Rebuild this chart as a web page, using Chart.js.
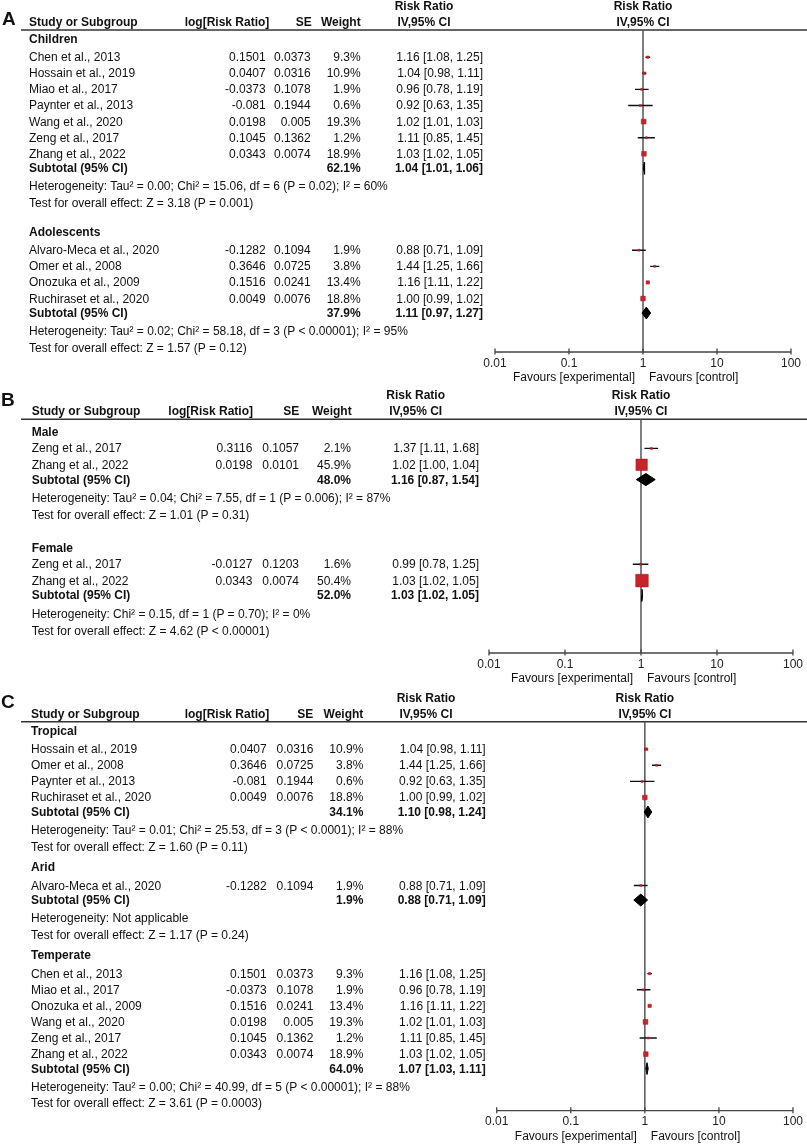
<!DOCTYPE html>
<html><head><meta charset="utf-8">
<script src="https://cdn.jsdelivr.net/npm/chart.js@4.4.0/dist/chart.umd.min.js"></script>
<style>
html,body{margin:0;padding:0;background:#fff;}
#page{position:relative;width:807px;height:1145px;overflow:hidden;font-family:'Liberation Sans',Arial,sans-serif;font-size:12px;color:#111;}
.t{position:absolute;white-space:nowrap;line-height:14px;height:14px;}
.b{font-weight:bold;}
canvas{position:absolute;left:0;}
.lab{position:absolute;white-space:nowrap;font-family:'Liberation Sans Narrow','Liberation Sans',sans-serif;font-weight:bold;font-size:19px;line-height:20px;color:#111;}
</style></head><body><div id="page"></div>
<script>
// ================= DATA =================
// Shared axis / header text
const tickValues = [0.01, 0.1, 1, 10, 100];
const tickLabels = ['0.01', '0.1', '1', '10', '100'];
const colHeaders = ['Study or Subgroup', 'log[Risk Ratio]', 'SE', 'Weight'];
const rrHeader = ['Risk Ratio', 'IV,95% CI'];
const favours = ['Favours [experimental]', 'Favours [control]'];
const subtotalLabel = 'Subtotal (95% CI)';

// Panel A (age)
const A_groups = ['Children', 'Adolescents'];
const A_studies = ['Chen et al., 2013', 'Hossain et al., 2019', 'Miao et al., 2017', 'Paynter et al., 2013', 'Wang et al., 2020', 'Zeng et al., 2017', 'Zhang et al., 2022', 'Alvaro-Meca et al., 2020', 'Omer et al., 2008', 'Onozuka et al., 2009', 'Ruchiraset et al., 2020'];
const A_groupOf = [0, 0, 0, 0, 0, 0, 0, 1, 1, 1, 1];
const A_logRR = [0.1501, 0.0407, -0.0373, -0.081, 0.0198, 0.1045, 0.0343, -0.1282, 0.3646, 0.1516, 0.0049];
const A_se = [0.0373, 0.0316, 0.1078, 0.1944, 0.005, 0.1362, 0.0074, 0.1094, 0.0725, 0.0241, 0.0076];
const A_weight = [9.3, 10.9, 1.9, 0.6, 19.3, 1.2, 18.9, 1.9, 3.8, 13.4, 18.8];
const A_rr = [1.16, 1.04, 0.96, 0.92, 1.02, 1.11, 1.03, 0.88, 1.44, 1.16, 1.00];
const A_lo = [1.08, 0.98, 0.78, 0.63, 1.01, 0.85, 1.02, 0.71, 1.25, 1.11, 0.99];
const A_hi = [1.25, 1.11, 1.19, 1.35, 1.03, 1.45, 1.05, 1.09, 1.66, 1.22, 1.02];
const A_subWeight = [62.1, 37.9];
const A_subRR = [1.04, 1.11];
const A_subLo = [1.01, 0.97];
const A_subHi = [1.06, 1.27];
const A_het = ['Heterogeneity: Tau² = 0.00; Chi² = 15.06, df = 6 (P = 0.02); I² = 60%', 'Heterogeneity: Tau² = 0.02; Chi² = 58.18, df = 3 (P < 0.00001); I² = 95%'];
const A_test = ['Test for overall effect: Z = 3.18 (P = 0.001)', 'Test for overall effect: Z = 1.57 (P = 0.12)'];

// Panel B (sex)
const B_groups = ['Male', 'Female'];
const B_studies = ['Zeng et al., 2017', 'Zhang et al., 2022', 'Zeng et al., 2017', 'Zhang et al., 2022'];
const B_groupOf = [0, 0, 1, 1];
const B_logRR = [0.3116, 0.0198, -0.0127, 0.0343];
const B_se = [0.1057, 0.0101, 0.1203, 0.0074];
const B_weight = [2.1, 45.9, 1.6, 50.4];
const B_rr = [1.37, 1.02, 0.99, 1.03];
const B_lo = [1.11, 1.00, 0.78, 1.02];
const B_hi = [1.68, 1.04, 1.25, 1.05];
const B_subWeight = [48.0, 52.0];
const B_subRR = [1.16, 1.03];
const B_subLo = [0.87, 1.02];
const B_subHi = [1.54, 1.05];
const B_het = ['Heterogeneity: Tau² = 0.04; Chi² = 7.55, df = 1 (P = 0.006); I² = 87%', 'Heterogeneity: Chi² = 0.15, df = 1 (P = 0.70); I² = 0%'];
const B_test = ['Test for overall effect: Z = 1.01 (P = 0.31)', 'Test for overall effect: Z = 4.62 (P < 0.00001)'];

// Panel C (climate)
const C_groups = ['Tropical', 'Arid', 'Temperate'];
const C_studies = ['Hossain et al., 2019', 'Omer et al., 2008', 'Paynter et al., 2013', 'Ruchiraset et al., 2020', 'Alvaro-Meca et al., 2020', 'Chen et al., 2013', 'Miao et al., 2017', 'Onozuka et al., 2009', 'Wang et al., 2020', 'Zeng et al., 2017', 'Zhang et al., 2022'];
const C_groupOf = [0, 0, 0, 0, 1, 2, 2, 2, 2, 2, 2];
const C_logRR = [0.0407, 0.3646, -0.081, 0.0049, -0.1282, 0.1501, -0.0373, 0.1516, 0.0198, 0.1045, 0.0343];
const C_se = [0.0316, 0.0725, 0.1944, 0.0076, 0.1094, 0.0373, 0.1078, 0.0241, 0.005, 0.1362, 0.0074];
const C_weight = [10.9, 3.8, 0.6, 18.8, 1.9, 9.3, 1.9, 13.4, 19.3, 1.2, 18.9];
const C_rr = [1.04, 1.44, 0.92, 1.00, 0.88, 1.16, 0.96, 1.16, 1.02, 1.11, 1.03];
const C_lo = [0.98, 1.25, 0.63, 0.99, 0.71, 1.08, 0.78, 1.11, 1.01, 0.85, 1.02];
const C_hi = [1.11, 1.66, 1.35, 1.02, 1.09, 1.25, 1.19, 1.22, 1.03, 1.45, 1.05];
const C_subWeight = [34.1, 1.9, 64.0];
const C_subRR = [1.10, 0.88, 1.07];
const C_subLo = [0.98, 0.71, 1.03];
const C_subHi = [1.24, 1.09, 1.11];
const C_het = ['Heterogeneity: Tau² = 0.01; Chi² = 25.53, df = 3 (P < 0.0001); I² = 88%', 'Heterogeneity: Not applicable', 'Heterogeneity: Tau² = 0.00; Chi² = 40.99, df = 5 (P < 0.00001); I² = 88%'];
const C_test = ['Test for overall effect: Z = 1.60 (P = 0.11)', 'Test for overall effect: Z = 1.17 (P = 0.24)', 'Test for overall effect: Z = 3.61 (P = 0.0003)'];

// ================= ASSEMBLY =================
const panelsData = [
  {label: 'A', groups: A_groups, studies: A_studies, groupOf: A_groupOf, logRR: A_logRR, se: A_se, weight: A_weight, rr: A_rr, lo: A_lo, hi: A_hi, subWeight: A_subWeight, subRR: A_subRR, subLo: A_subLo, subHi: A_subHi, het: A_het, test: A_test},
  {label: 'B', groups: B_groups, studies: B_studies, groupOf: B_groupOf, logRR: B_logRR, se: B_se, weight: B_weight, rr: B_rr, lo: B_lo, hi: B_hi, subWeight: B_subWeight, subRR: B_subRR, subLo: B_subLo, subHi: B_subHi, het: B_het, test: B_test},
  {label: 'C', groups: C_groups, studies: C_studies, groupOf: C_groupOf, logRR: C_logRR, se: C_se, weight: C_weight, rr: C_rr, lo: C_lo, hi: C_hi, subWeight: C_subWeight, subRR: C_subRR, subLo: C_subLo, subHi: C_subHi, het: C_het, test: C_test}
];

// Layout / style per panel (page pixels)
const layouts = [
  {top: 0, h: 390, line: 30, axis: 352, first: 39, pitch: 16.1, hGap: 1.13, gGap: 1.8, xl: 495, xr: 791, labelX: 2, labelY: 19,
   cols: {study: 29, lrr: 265.7, lrrH: 269.3, se: 310.7, seH: 311.7, w: 360.7, wH: 360.7, ci: 483, ciH: 424}},
  {top: 385, h: 305, line: 419.3, axis: 653, first: 432, pitch: 16.4, hGap: 1.0, gGap: 2.0, xl: 489, xr: 793, labelX: 1, labelY: 399.5,
   cols: {study: 31.7, lrr: 252.3, lrrH: 253, se: 299, seH: 299.3, w: 351, wH: 351.7, ci: 479, ciH: 415.7}},
  {top: 690, h: 455, line: 721.7, axis: 1110.7, first: 731, pitch: 16.1, hGap: 1.13, gGap: 1.28, xl: 496.7, xr: 793.3, labelX: 1, labelY: 701.7,
   cols: {study: 31, lrr: 266.7, lrrH: 269.3, se: 313.3, seH: 313.3, w: 363.3, wH: 363.3, ci: 485.7, ciH: 426}}
];
const W = 807;
const page = document.getElementById('page');

function addText(txt, x, y, align, bold, cls) {
  const d = document.createElement('div');
  d.className = cls || ('t' + (bold ? ' b' : ''));
  d.textContent = txt;
  d.style.top = (y - 7) + 'px';
  if (align === 'right') { d.style.right = (W - x) + 'px'; }
  else if (align === 'center') { d.style.left = x + 'px'; d.style.transform = 'translateX(-50%)'; }
  else { d.style.left = x + 'px'; }
  page.appendChild(d);
  return d;
}

function buildRows(P, L) {
  const rows = [];
  let y = 0;
  P.groups.forEach((g, gi) => {
    if (gi > 0) y += L.gGap;
    rows.push({kind: 'group', y, gi});
    let first = true;
    P.studies.forEach((s, i) => {
      if (P.groupOf[i] !== gi) return;
      y += first ? L.hGap : 1.0; first = false;
      rows.push({kind: 'study', y, i});
    });
    y += 0.9; rows.push({kind: 'sub', y, gi});
    y += 1.13; rows.push({kind: 'het', y, gi});
    y += 1.03; rows.push({kind: 'test', y, gi});
  });
  return rows;
}

const forestPlugin = {
  id: 'forest',
  beforeDatasetsDraw(chart, args, opts) {
    const {ctx, chartArea: a} = chart;
    const x = chart.scales.x;
    ctx.save();
    // header rule
    ctx.strokeStyle = '#333'; ctx.lineWidth = 1.5;
    ctx.beginPath(); ctx.moveTo(opts.ruleStart, a.top); ctx.lineTo(chart.width, a.top); ctx.stroke();
    // line of no effect
    const x1 = x.getPixelForValue(1);
    ctx.strokeStyle = '#555'; ctx.lineWidth = 1.5;
    ctx.beginPath(); ctx.moveTo(x1, a.top); ctx.lineTo(x1, a.bottom); ctx.stroke();
    // axis + ticks
    ctx.strokeStyle = '#444'; ctx.lineWidth = 1.3;
    ctx.beginPath();
    ctx.moveTo(x.getPixelForValue(tickValues[0]), a.bottom);
    ctx.lineTo(x.getPixelForValue(tickValues[tickValues.length - 1]), a.bottom);
    tickValues.forEach(v => { const px = x.getPixelForValue(v); ctx.moveTo(px, a.bottom - 3.5); ctx.lineTo(px, a.bottom + 2.5); });
    ctx.stroke();
    ctx.restore();
  }
};

panelsData.forEach((P, pi) => {
  const L = layouts[pi];
  const rows = buildRows(P, L);
  const yMin = -(L.first - L.line) / L.pitch;
  const yMax = yMin + (L.axis - L.line) / L.pitch;

  const studyRows = rows.filter(r => r.kind === 'study');
  const subRows = rows.filter(r => r.kind === 'sub');

  const squares = {
    type: 'scatter',
    data: studyRows.map(r => ({x: P.rr[r.i], y: r.y})),
    pointStyle: 'rect',
    pointRadius: studyRows.map(r => Math.max(2, 0.25 * P.weight[r.i]) / Math.SQRT2),
    backgroundColor: '#c8232b', borderColor: '#a8191f', borderWidth: 0.5,
    order: 0
  };
  const ciData = [];
  studyRows.forEach(r => { ciData.push({x: P.lo[r.i], y: r.y}, {x: P.hi[r.i], y: r.y}, {x: null, y: null}); });
  const ciLines = {type: 'line', data: ciData, borderColor: '#111', borderWidth: 1.4, pointRadius: 0, spanGaps: false, fill: false, order: 2};
  const hh = 0.37;
  const diamonds = subRows.map(r => ({
    type: 'line',
    data: [{x: P.subLo[r.gi], y: r.y}, {x: P.subRR[r.gi], y: r.y - hh}, {x: P.subHi[r.gi], y: r.y}, {x: P.subRR[r.gi], y: r.y + hh}, {x: P.subLo[r.gi], y: r.y}],
    borderColor: '#000', backgroundColor: '#000', borderWidth: 1, pointRadius: 0, fill: 'shape', order: 1
  }));

  const canvas = document.createElement('canvas');
  canvas.width = W; canvas.height = L.h;
  canvas.style.width = W + 'px'; canvas.style.height = L.h + 'px';
  canvas.style.top = L.top + 'px';
  page.appendChild(canvas);

  const pad = {left: L.xl, right: W - L.xr, top: L.line - L.top, bottom: L.h - (L.axis - L.top) - 18.4};
  const chart = new Chart(canvas, {
    type: 'scatter',
    data: {datasets: [squares, ...diamonds, ciLines]},
    options: {
      responsive: false, animation: false, events: [], devicePixelRatio: 1,
      layout: {padding: pad},
      plugins: {legend: {display: false}, tooltip: {enabled: false}, forest: {ruleStart: 21}},
      scales: {
        x: {
          type: 'logarithmic', min: tickValues[0], max: tickValues[tickValues.length - 1], position: 'bottom',
          grid: {display: false, drawTicks: false}, border: {display: false},
          afterBuildTicks: s => { s.ticks = tickValues.map(v => ({value: v})); },
          ticks: {padding: 4, color: '#222', autoSkip: false, maxRotation: 0, font: {family: "'Liberation Sans', Arial, sans-serif", size: 12},
                  callback: (v, i) => tickLabels[i]}
        },
        y: {type: 'linear', reverse: true, min: yMin, max: yMax, display: false}
      }
    },
    plugins: [forestPlugin]
  });
  // correct chart area to target
  const a = chart.chartArea;
  pad.top += (L.line - L.top) - a.top;
  pad.bottom += a.bottom - (L.axis - L.top);
  pad.left += L.xl - a.left;
  pad.right += a.right - L.xr;
  chart.options.layout.padding = pad;
  chart.update('none');

  const ys = chart.scales.y, xs = chart.scales.x;
  const py = v => L.top + ys.getPixelForValue(v);
  const x1 = xs.getPixelForValue(1);
  const C = L.cols;

  // panel label
  const lab = addText(P.label, L.labelX, L.labelY, 'left', true, 'lab');
  lab.style.top = (L.labelY - 10) + 'px';

  // headers
  addText(colHeaders[0], C.study, L.line - 8, 'left', true);
  addText(colHeaders[1], C.lrrH, L.line - 8, 'right', true);
  addText(colHeaders[2], C.seH, L.line - 8, 'right', true);
  addText(colHeaders[3], C.wH, L.line - 8, 'right', true);
  addText(rrHeader[0], C.ciH, L.line - 24, 'center', true);
  addText(rrHeader[1], C.ciH, L.line - 8, 'center', true);
  addText(rrHeader[0], x1, L.line - 24, 'center', true);
  addText(rrHeader[1], x1, L.line - 8, 'center', true);

  const fmtCI = (e, l, h) => `${e.toFixed(2)} [${l.toFixed(2)}, ${h.toFixed(2)}]`;
  rows.forEach(r => {
    const y = py(r.y);
    if (r.kind === 'group') addText(P.groups[r.gi], C.study, y, 'left', true);
    else if (r.kind === 'study') {
      const i = r.i;
      addText(P.studies[i], C.study, y, 'left', false);
      addText(String(P.logRR[i]), C.lrr, y, 'right', false);
      addText(String(P.se[i]), C.se, y, 'right', false);
      addText(P.weight[i].toFixed(1) + '%', C.w, y, 'right', false);
      addText(fmtCI(P.rr[i], P.lo[i], P.hi[i]), C.ci, y, 'right', false);
    } else if (r.kind === 'sub') {
      addText(subtotalLabel, C.study, y, 'left', true);
      addText(P.subWeight[r.gi].toFixed(1) + '%', C.w, y, 'right', true);
      addText(fmtCI(P.subRR[r.gi], P.subLo[r.gi], P.subHi[r.gi]), C.ci, y, 'right', true);
    } else if (r.kind === 'het') addText(P.het[r.gi], C.study, y, 'left', false);
    else if (r.kind === 'test') addText(P.test[r.gi], C.study, y, 'left', false);
  });

  // favours labels
  addText(favours[0], x1 - 8, L.axis + 25, 'right', false);
  addText(favours[1], x1 + 6, L.axis + 25, 'left', false);
});
</script>
</body></html>
